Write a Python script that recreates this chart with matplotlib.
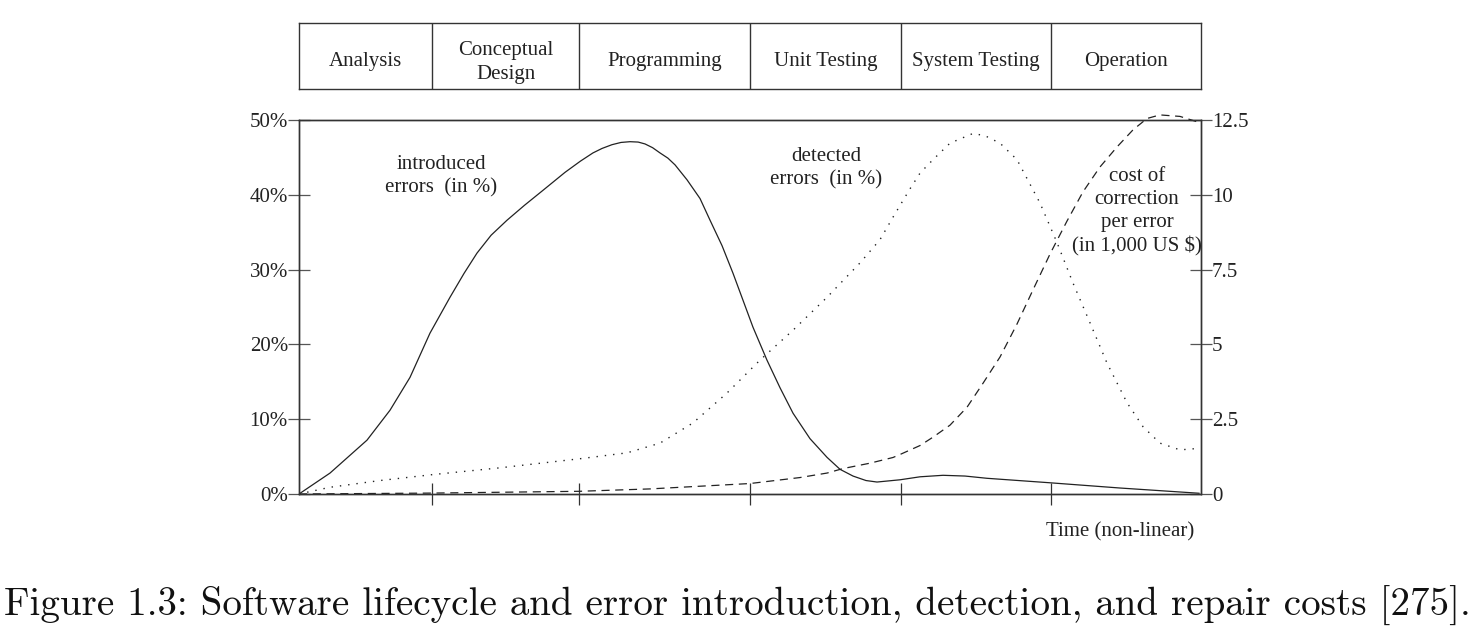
import matplotlib
matplotlib.use("Agg")
import matplotlib.pyplot as plt

# ---------------- data (time axis is a non-linear 0..100 scale) ----------------
phases = ["Analysis", "Conceptual\nDesign", "Programming", "Unit Testing",
          "System Testing", "Operation"]
phase_bounds = [0, 14.75, 31.04, 50.0, 66.74, 83.37, 100]

intro_t = [0, 3.44, 7.54, 10.09, 12.31, 14.52, 16.74, 18.3, 19.73, 21.3,
           23.06, 25.0, 27.05, 29.49, 31.2, 32.59, 33.6, 34.70, 35.7, 36.70,
           37.6, 38.36, 39.2, 40.02, 40.9, 41.69, 43.02, 44.46,
           45.57, 46.90, 48.12, 50.33, 51.88, 53.33, 54.77, 56.65, 58.54,
           59.98, 61.42, 62.86, 64.08, 66.63, 68.85, 71.40, 73.84, 76.27,
           83.26, 91.02, 99.78]
intro_pct = [0, 2.8, 7.2, 11.2, 15.6, 21.5, 26.3, 29.5, 32.2, 34.6,
             36.6, 38.6, 40.6, 43.0, 44.5, 45.6, 46.2, 46.7, 47.0, 47.1,
             47.05, 46.8, 46.3, 45.6, 44.9, 44.0, 42.0, 39.5,
             36.6, 33.2, 29.5, 22.3, 17.9, 14.2, 10.8, 7.4, 4.9,
             3.3, 2.4, 1.8, 1.6, 1.9, 2.3, 2.5, 2.4, 2.1,
             1.5, 0.8, 0.1]

detect_t = [0, 3.44, 8.98, 14.86, 22.28, 31.04, 36.36, 40.02, 43.68, 47.45,
            51.11, 54.77, 58.54, 62.20, 64.41, 65.85, 67.74, 68.85, 70.29,
            72.17, 74.72, 76.05, 77.72, 79.60, 82.15, 84.04, 85.81, 87.69,
            89.58, 91.80, 93.57, 95.45, 97.67, 99.78]
detect_pct = [0, 0.9, 1.8, 2.6, 3.5, 4.7, 5.5, 6.8, 9.5, 13.5,
              17.9, 21.9, 26.3, 30.9, 34.0, 37.0, 40.8, 42.9, 44.7,
              46.9, 48.2, 47.9, 46.9, 44.7, 38.9, 33.6, 28.2, 22.9,
              17.5, 12.2, 9.0, 6.8, 5.9, 6.1]

cost_t = [0, 14.52, 31.04, 38.91, 50.0, 55.54, 58.54, 60.31, 63.30, 65.85,
          66.63, 68.85, 70.29, 72.17, 74.06, 75.83, 77.72, 79.60, 81.37,
          83.26, 85.14, 86.92, 88.80, 90.69, 92.46, 94.01, 95.45, 97.67, 100]
cost_k = [0, 0.03, 0.09, 0.17, 0.35, 0.55, 0.7, 0.85, 1.03, 1.22,
          1.32, 1.62, 1.9, 2.3, 2.9, 3.7, 4.58, 5.68, 6.82,
          8.02, 9.12, 10.1, 10.93, 11.6, 12.17, 12.55, 12.67, 12.62, 12.4]

left_ticks = [0, 10, 20, 30, 40, 50]
left_labels = ["0%", "10%", "20%", "30%", "40%", "50%"]
right_ticks = [0, 2.5, 5, 7.5, 10, 12.5]
right_labels = ["0", "2.5", "5", "7.5", "10", "12.5"]

caption = "Figure 1.3: Software lifecycle and error introduction, detection, and repair costs [275]."

# ---------------- figure ----------------
W, H = 1472, 634
fig = plt.figure(figsize=(W / 100, H / 100), dpi=100)
serif = ["Liberation Serif", "DejaVu Serif"]
fs = 15
ink = "#222222"
spine_c = "#333333"


def fx(px):
    return px / W


def fy(py):
    return 1 - py / H


# phase header box
hx0, hx1 = 299, 1201
hb = fig.add_axes([fx(hx0), fy(89), fx(hx1 - hx0), (89 - 23) / H])
hb.set_xlim(0, 100)
hb.set_ylim(0, 1)
hb.set_xticks([])
hb.set_yticks([])
for s in hb.spines.values():
    s.set_color(spine_c)
    s.set_linewidth(1.0)
for b in phase_bounds[1:-1]:
    hb.axvline(b, color=spine_c, lw=1.0)
for i, name in enumerate(phases):
    mid = (phase_bounds[i] + phase_bounds[i + 1]) / 2
    yc = 0.40 if "\n" in name else 0.42
    hb.text(mid, yc, name, ha="center", va="center", fontsize=fs,
            family=serif, color=ink, linespacing=1.36)

# main axes
ax = fig.add_axes([fx(299), fy(494), fx(1201 - 299), (494 - 120) / H])
ax.set_xlim(0, 100)
ax.set_ylim(0, 50)
ax2 = ax.twinx()
ax2.set_ylim(0, 12.5)

ax.plot(intro_t, intro_pct, color=ink, lw=0.9, solid_joinstyle="round")
ax.plot(detect_t, detect_pct, color=ink, lw=1.0, linestyle=(0, (1, 5)))
ax2.plot(cost_t, cost_k, color=ink, lw=0.9, linestyle=(0, (6.5, 4.5)),
         clip_on=False)

for a in (ax, ax2):
    for s in a.spines.values():
        s.set_color(spine_c)
        s.set_linewidth(1.0)

ax.set_xticks(phase_bounds[1:-1])
ax.set_xticklabels([])
ax.tick_params(axis="x", direction="inout", length=16, width=0.9, color=spine_c)
ax.set_yticks(left_ticks)
ax.set_yticklabels(left_labels, family=serif, fontsize=fs, color=ink)
ax.tick_params(axis="y", direction="inout", length=16, width=0.9,
               color="#555555", pad=0)
ax2.set_yticks(right_ticks)
ax2.set_yticklabels(right_labels, family=serif, fontsize=fs, color=ink)
ax2.tick_params(axis="y", direction="inout", length=16, width=0.9,
                color="#555555", pad=0)

# annotations
def axpos(px, py):
    return ((px - 299) / (1201 - 299), (494 - py) / (494 - 120))

ls = 1.28
ax.text(*axpos(441, 176), "introduced\nerrors  (in %)", transform=ax.transAxes,
        ha="center", va="center", fontsize=fs, family=serif, color=ink,
        linespacing=ls)
ax.text(*axpos(826, 168), "detected\nerrors  (in %)", transform=ax.transAxes,
        ha="center", va="center", fontsize=fs, family=serif, color=ink,
        linespacing=ls)
ax.text(*axpos(1137, 212), "cost of\ncorrection\nper error\n(in 1,000 US $)",
        transform=ax.transAxes, ha="center", va="center", fontsize=fs,
        family=serif, color=ink, linespacing=ls)
ax.text(*axpos(1120, 532), "Time (non-linear)", transform=ax.transAxes,
        ha="center", va="center", fontsize=fs, family=serif, color=ink)

# caption
fig.text(fx(737), fy(606), caption, ha="center", va="center", fontsize=28.1,
         family=["cmr10", "DejaVu Serif"], color="#111111")

fig.savefig("out.png", dpi=100, facecolor="white")
